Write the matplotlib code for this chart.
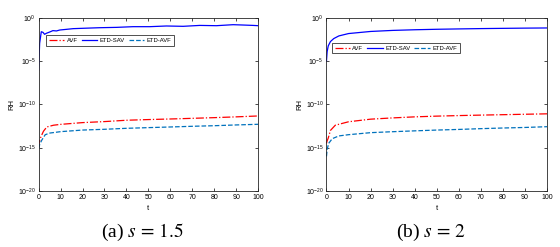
import numpy as np
import matplotlib
matplotlib.use('Agg')
import matplotlib.pyplot as plt
from matplotlib.ticker import NullLocator

plt.rcParams['font.family'] = ['Liberation Sans', 'DejaVu Sans']
plt.rcParams['mathtext.fontset'] = 'custom'
plt.rcParams['mathtext.rm'] = 'Liberation Sans'
plt.rcParams['mathtext.it'] = 'Liberation Sans:italic'

# ---- panel (a), s = 1.5 ----
t_sav_a = [0, 0.46, 1.2, 2.0, 2.7, 3.5, 5.0, 6.5, 8.1, 9.6, 12.6, 15.7, 20.2,
           27.8, 35.4, 43, 50.6, 58.2, 65.8, 73.4, 81, 88.6, 93.2, 97.7, 100]
rh_sav_a = [1e-6, 1.2e-3, 2.6e-2, 2.2e-2, 1.3e-2, 1.7e-2, 2.4e-2, 3.5e-2, 3.2e-2,
            4.1e-2, 4.9e-2, 5.9e-2, 6.5e-2, 7.6e-2, 8.3e-2, 0.10, 0.10, 0.12,
            0.11, 0.14, 0.13, 0.17, 0.155, 0.14, 0.13]

t_avf_a = [0, 0.3, 1.1, 2.2, 3.7, 6.8, 10, 20, 30, 40, 50, 60, 70, 80, 90, 100]
rh_avf_a = [1e-15, 5e-15, 2e-14, 8e-14, 2.5e-13, 4e-13, 5e-13, 8e-13, 1.05e-12,
            1.5e-12, 1.8e-12, 2.1e-12, 2.5e-12, 3e-12, 3.7e-12, 4.7e-12]

t_etdavf_a = [0, 0.5, 1.5, 3, 5.2, 8.3, 10, 20, 30, 40, 50, 60, 70, 80, 90, 100]
rh_etdavf_a = [8e-16, 2.5e-15, 8e-15, 3.2e-14, 5e-14, 6.3e-14, 7.2e-14, 1.1e-13,
               1.35e-13, 1.75e-13, 2.1e-13, 2.5e-13, 3e-13, 3.5e-13, 4.3e-13,
               5.1e-13]

# ---- panel (b), s = 2 ----
t_sav_b = [0, 0.3, 0.8, 1.8, 3.3, 5.6, 10, 20, 30, 40, 50, 60, 70, 80, 90, 100]
rh_sav_b = [1.1e-5, 1.3e-4, 6e-4, 1.9e-3, 4.2e-3, 8.5e-3, 1.6e-2, 2.8e-2,
            3.7e-2, 4.4e-2, 5.0e-2, 5.5e-2, 6.0e-2, 6.4e-2, 6.8e-2, 7.1e-2]

t_avf_b = [0, 0.3, 0.8, 1.8, 4, 10, 20, 30, 40, 50, 60, 70, 80, 90, 100]
rh_avf_b = [3.2e-15, 6.3e-15, 1.3e-14, 1e-13, 4e-13, 1e-12, 2e-12, 2.8e-12,
            3.7e-12, 4.5e-12, 5.2e-12, 5.9e-12, 6.6e-12, 7.4e-12, 8.3e-12]

t_etdavf_b = [0, 0.3, 1, 2.6, 5.6, 10, 20, 30, 40, 50, 60, 70, 80, 90, 100]
rh_etdavf_b = [1e-16, 6.3e-16, 3.2e-15, 1.1e-14, 2.3e-14, 3.2e-14, 5.5e-14,
               7.1e-14, 8.9e-14, 1.1e-13, 1.3e-13, 1.6e-13, 1.9e-13, 2.2e-13,
               2.7e-13]

xticks = list(range(0, 101, 10))
yticks = [1e-20, 1e-15, 1e-10, 1e-5, 1e0]
ytick_labels = [r'$10^{-20}$', r'$10^{-15}$', r'$10^{-10}$', r'$10^{-5}$',
                r'$10^{0}$']
captions = [r'(a) $s\,=\,1.5$', r'(b) $s\,=\,2$']


def _draw_panel(ax, sav, avf, etdavf, legend_anchor):
    ax.plot(avf[0], avf[1], '-.', color='#ff0000', lw=0.9, label='AVF')
    ax.plot(sav[0], sav[1], '-', color='#0000ff', lw=0.9, label='ETD-SAV')
    ax.plot(etdavf[0], etdavf[1], '--', color='#0072bd', lw=0.9,
            label='ETD-AVF')
    ax.set_yscale('log')
    ax.set_xlim(0, 100)
    ax.set_ylim(1e-20, 1e0)
    ax.set_xticks(xticks)
    ax.set_yticks(yticks)
    ax.set_yticklabels(ytick_labels)
    ax.yaxis.set_minor_locator(NullLocator())
    ax.tick_params(direction='in', top=True, right=True, labelsize=5,
                   length=2.5, width=0.5, pad=2)
    for sp in ax.spines.values():
        sp.set_linewidth(0.6)
        sp.set_color('#262626')
    ax.set_xlabel('t', fontsize=5.5, labelpad=3)
    ax.set_ylabel('RH', fontsize=5.5, labelpad=2)
    leg = ax.legend(loc='upper left', bbox_to_anchor=legend_anchor, ncol=3,
                    fontsize=4.2, frameon=True, fancybox=False,
                    handlelength=2.6, handletextpad=0.45, columnspacing=0.7,
                    borderpad=0.45, borderaxespad=0)
    leg.get_frame().set_edgecolor('black')
    leg.get_frame().set_linewidth(0.6)


fig = plt.figure(figsize=(5.6, 2.47), dpi=100)
ax_a = fig.add_axes([0.069, 0.227, 0.392, 0.700])
ax_b = fig.add_axes([0.583, 0.227, 0.394, 0.700])

_draw_panel(ax_a, (t_sav_a, rh_sav_a), (t_avf_a, rh_avf_a),
            (t_etdavf_a, rh_etdavf_a), (0.034, 0.90))
_draw_panel(ax_b, (t_sav_b, rh_sav_b), (t_avf_b, rh_avf_b),
            (t_etdavf_b, rh_etdavf_b), (0.025, 0.855))

for x, cap in zip([0.254, 0.77], captions):
    fig.text(x, 0.057, cap, ha='center', va='center', fontsize=14,
             family='Liberation Serif',
             math_fontfamily='stix')

fig.savefig('out.png', dpi=100)
